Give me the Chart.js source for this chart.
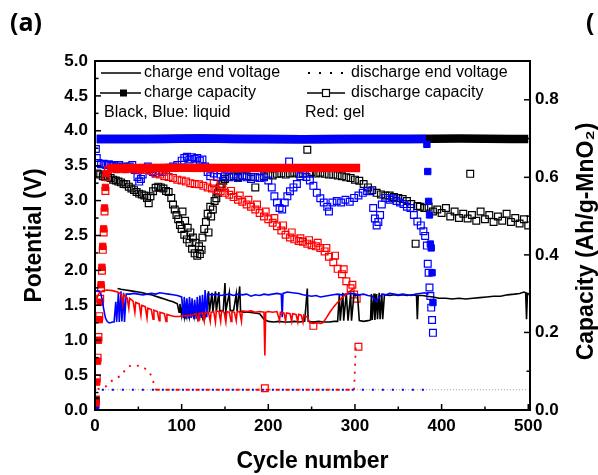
<!DOCTYPE html>
<html>
<head>
<meta charset="utf-8">
<script src="https://cdn.jsdelivr.net/npm/chart.js@4.4.1/dist/chart.umd.min.js"></script>
<style>
html,body{margin:0;padding:0;background:#fff;}
#wrap{width:598px;height:475px;position:relative;}
</style>
</head>
<body>
<div id="wrap"><canvas id="c" width="598" height="475"></canvas></div>
<script>
// ---------- tick labels ----------
const cycleTicks = [0, 100, 200, 300, 400, 500];
const potentialTicks = [0, 0.5, 1.0, 1.5, 2.0, 2.5, 3.0, 3.5, 4.0, 4.5, 5.0];
const capacityTicks = [0, 0.2, 0.4, 0.6, 0.8];

// ---------- charge end voltage (V) ----------
const blackVCyc = [26,30,35,40,45,50,55,60,65,70,75,80,85,90,95,97,98,100,101,103,104,106,107,109,110,112,113,115,116,118,119,121,122,124,125,127,129,131,132,135,136,139,140,143,144,148,150,151,155,156,160,163,164,167,168,172,178,184,190,195,200,206,212,218,224,230,236,242,245,246,252,258,264,270,276,280,282,283,286,287,290,292,295,296,299,300,303,305,310,315,318,319,320,322,323,325,326,328,329,331,332,334,340,345,350,355,360,366,371,372,373,378,383,390,397,405,412,420,428,436,444,452,460,468,476,484,490,495,497,498,499,500];
const blackV = [1.74,1.73,1.72,1.71,1.70,1.69,1.68,1.66,1.65,1.63,1.61,1.59,1.57,1.55,1.52,1.40,1.52,1.36,1.50,1.34,1.50,1.35,1.49,1.34,1.48,1.35,1.47,1.34,1.46,1.33,1.45,1.34,1.44,1.33,1.43,1.33,1.42,1.70,1.40,1.68,1.40,1.70,1.41,1.69,1.42,1.42,1.82,1.42,1.68,1.42,1.43,1.66,1.42,1.77,1.41,1.40,1.40,1.39,1.38,1.30,1.27,1.26,1.27,1.26,1.26,1.27,1.26,1.27,1.74,1.27,1.26,1.27,1.26,1.26,1.27,1.27,1.66,1.28,1.68,1.28,1.67,1.28,1.66,1.28,1.67,1.65,1.64,1.28,1.27,1.28,1.29,1.66,1.29,1.67,1.29,1.66,1.30,1.68,1.30,1.67,1.30,1.65,1.64,1.65,1.64,1.65,1.64,1.65,1.64,1.30,1.64,1.64,1.63,1.62,1.60,1.60,1.59,1.60,1.59,1.60,1.61,1.62,1.63,1.63,1.65,1.66,1.67,1.69,1.68,1.30,1.66,1.64];

const blueVCyc = [1,3,6,8,10,12,14,16,18,20,22,24,25,27,28,30,31,33,34,36,40,45,50,55,60,65,70,75,80,85,90,95,100,102,103,105,106,108,109,111,112,114,115,117,118,120,121,123,124,126,127,129,130,135,140,145,150,155,160,165,170,175,180,185,190,195,200,205,210,215,216,217,222,228,235,240,245,250,255,260,265,270,275,280,285,290,295,300,305,310,315,320,325,328,332,336,340,345,350,355,360,365,370,375,380,385];
const blueV = [1.70,1.71,1.70,1.60,1.45,1.32,1.27,1.25,1.25,1.26,1.26,1.55,1.26,1.68,1.26,1.70,1.27,1.68,1.26,1.66,1.66,1.67,1.66,1.65,1.66,1.67,1.66,1.68,1.67,1.66,1.65,1.64,1.62,1.32,1.62,1.30,1.60,1.31,1.62,1.32,1.60,1.30,1.58,1.31,1.62,1.30,1.64,1.32,1.65,1.31,1.72,1.33,1.66,1.65,1.66,1.64,1.65,1.66,1.64,1.66,1.65,1.66,1.63,1.65,1.64,1.66,1.65,1.66,1.67,1.66,1.33,1.67,1.69,1.68,1.67,1.65,1.64,1.63,1.64,1.62,1.63,1.64,1.65,1.66,1.65,1.66,1.67,1.66,1.65,1.66,1.64,1.63,1.55,1.62,1.66,1.65,1.67,1.66,1.65,1.66,1.65,1.64,1.66,1.67,1.68,1.66];

const redVCyc = [2,5,9,14,20,26,30,32,33,37,39,40,44,46,47,51,53,54,58,60,61,65,67,68,72,74,75,80,82,83,88,92,97,102,107,112,117,119,120,124,126,127,131,133,134,137,139,140,143,145,146,149,151,152,155,157,158,161,163,164,167,169,170,175,180,185,190,195,196,197,200,205,210,213,214,218,220,221,225,227,228,232,234,235,238,240,241,245,248,252,256,260,263,267,271,275,279,283,287,291,295,298];
const redV = [1.60,1.68,1.71,1.72,1.71,1.69,1.66,1.52,1.65,1.61,1.46,1.60,1.56,1.40,1.54,1.52,1.36,1.50,1.48,1.32,1.46,1.44,1.30,1.43,1.41,1.28,1.40,1.38,1.27,1.37,1.35,1.34,1.34,1.35,1.35,1.36,1.38,1.28,1.38,1.39,1.27,1.39,1.40,1.27,1.40,1.41,1.26,1.42,1.41,1.27,1.42,1.40,1.26,1.41,1.40,1.27,1.41,1.40,1.28,1.41,1.41,1.27,1.42,1.41,1.42,1.40,1.41,1.40,0.78,1.40,1.41,1.40,1.41,1.28,1.40,1.39,1.28,1.39,1.38,1.27,1.38,1.37,1.26,1.37,1.36,1.26,1.36,1.33,1.25,1.24,1.25,1.24,1.25,1.32,1.40,1.47,1.53,1.58,1.63,1.67,1.71,1.74];

// ---------- discharge end voltage (V) ----------
const blackDisVCyc = [1, 500];
const blackDisV = [0.29, 0.29];
const blueDisVCyc = [1, 385];
const blueDisV = [0.29, 0.29];
const redDisVCyc = [3,12,17,24,31,35,40,46,52,57,62,65,68,70,299,301];
const redDisV = [0.30,0.33,0.40,0.45,0.50,0.58,0.63,0.64,0.63,0.60,0.55,0.49,0.38,0.29,0.29,0.90];

// ---------- charge capacity (Ah/g-MnO2) ----------
const blackChgCyc = [2,60,120,180,240,300,360,420,480,500];
const blackChg = [0.699,0.699,0.700,0.699,0.698,0.699,0.699,0.700,0.699,0.699];
const blackChgPtCyc = [1];
const blackChgPt = [0.025];
const blueChgCyc = [2,40,80,120,160,200,240,280,320,360,382];
const blueChg = [0.699,0.699,0.699,0.700,0.699,0.699,0.698,0.699,0.699,0.699,0.699];
const blueChgPtCyc = [1,383,384,385,386,387,388,389,390];
const blueChgPt = [0.012,0.685,0.615,0.538,0.503,0.428,0.418,0.354,0.277];
const redChgCyc = [14,50,100,150,200,250,306];
const redChg = [0.624,0.624,0.625,0.624,0.624,0.624,0.624];
const redChgPtCyc = [1,2,3,4,5,6,7,8,9,10,11,12,13];
const redChgPt = [0.018,0.072,0.126,0.180,0.233,0.278,0.323,0.368,0.422,0.467,0.521,0.574,0.610];

// ---------- discharge capacity (Ah/g-MnO2) ----------
const blackDisCapCyc = [3,6,9,12,15,18,21,24,27,30,33,36,39,42,45,48,51,54,57,60,62,64,67,70,73,76,79,82,85,88,90,92,94,96,98,100,101,103,104,106,107,109,110,112,113,115,116,118,120,121,123,124,126,128,130,131,133,134,136,138,140,142,144,146,148,150,155,160,165,170,175,180,185,190,195,200,205,210,215,220,225,230,235,240,245,248,250,255,260,265,270,275,280,285,290,295,300,305,310,315,320,325,330,335,340,345,350,355,360,365,370,372,375,380,385,390,395,400,405,410,415,420,425,430,433,435,440,445,450,455,460,465,470,475,480,485,490,495,500];
const blackDisCap = [0.610,0.607,0.603,0.601,0.600,0.598,0.594,0.592,0.589,0.587,0.583,0.582,0.576,0.571,0.567,0.562,0.558,0.556,0.553,0.547,0.533,0.551,0.564,0.573,0.576,0.574,0.571,0.565,0.562,0.547,0.530,0.517,0.503,0.492,0.477,0.467,0.512,0.452,0.488,0.440,0.470,0.431,0.458,0.416,0.445,0.404,0.431,0.398,0.422,0.402,0.413,0.445,0.467,0.485,0.506,0.458,0.524,0.499,0.517,0.539,0.546,0.560,0.574,0.583,0.591,0.596,0.600,0.603,0.601,0.605,0.603,0.601,0.574,0.598,0.603,0.607,0.605,0.609,0.610,0.607,0.610,0.612,0.609,0.610,0.671,0.612,0.614,0.610,0.612,0.609,0.607,0.607,0.605,0.603,0.600,0.598,0.594,0.591,0.583,0.574,0.567,0.560,0.556,0.553,0.553,0.549,0.547,0.544,0.539,0.531,0.429,0.526,0.524,0.521,0.524,0.512,0.517,0.508,0.521,0.499,0.512,0.495,0.506,0.494,0.609,0.503,0.488,0.512,0.492,0.503,0.485,0.499,0.488,0.506,0.485,0.495,0.481,0.492,0.476];

const blueDisCapCyc = [1,2,4,7,10,13,16,19,22,25,28,31,34,37,40,43,46,49,51,53,55,58,61,64,67,70,74,78,82,86,90,95,100,103,106,109,112,115,118,121,124,127,130,133,137,141,145,150,155,160,165,170,175,180,185,190,195,200,204,207,210,213,216,219,222,224,225,229,233,237,240,244,248,252,256,260,264,268,270,274,279,284,289,294,299,304,309,314,318,321,323,325,327,329,331,335,340,344,348,352,356,360,364,368,372,376,379,381,383,384,385,386,387,388,389,390];
const blueDisCap = [0.673,0.650,0.637,0.634,0.635,0.632,0.634,0.630,0.632,0.628,0.632,0.626,0.628,0.625,0.628,0.632,0.619,0.601,0.589,0.596,0.607,0.619,0.628,0.621,0.614,0.610,0.617,0.614,0.619,0.625,0.628,0.632,0.643,0.650,0.653,0.646,0.652,0.648,0.650,0.643,0.646,0.628,0.614,0.603,0.610,0.601,0.607,0.603,0.601,0.607,0.598,0.603,0.600,0.596,0.601,0.598,0.600,0.592,0.574,0.551,0.535,0.521,0.517,0.535,0.551,0.641,0.564,0.574,0.583,0.603,0.610,0.601,0.592,0.578,0.560,0.546,0.535,0.524,0.512,0.535,0.539,0.535,0.542,0.537,0.547,0.553,0.560,0.565,0.564,0.521,0.494,0.476,0.485,0.503,0.530,0.547,0.542,0.546,0.539,0.535,0.531,0.524,0.521,0.503,0.486,0.476,0.461,0.449,0.424,0.377,0.354,0.316,0.294,0.264,0.232,0.199];

const redDisCapCyc = [1,2,3,4,5,6,7,8,9,10,11,12,13,15,20,25,30,35,40,45,50,55,60,65,70,75,80,85,90,95,100,105,110,115,120,125,130,135,137,140,145,147,150,155,157,160,165,167,170,175,177,180,185,187,190,195,196,197,200,205,207,210,215,217,220,225,227,230,235,237,240,245,247,250,252,255,257,260,265,267,270,275,277,280,285,287,290,295,297,299,302,304];
const redDisCap = [0.027,0.081,0.135,0.188,0.242,0.287,0.314,0.359,0.413,0.458,0.512,0.565,0.601,0.619,0.623,0.621,0.623,0.621,0.623,0.621,0.621,0.619,0.619,0.616,0.610,0.607,0.603,0.601,0.598,0.594,0.592,0.589,0.585,0.583,0.582,0.578,0.574,0.571,0.585,0.567,0.564,0.574,0.560,0.555,0.565,0.549,0.542,0.553,0.537,0.530,0.542,0.524,0.517,0.530,0.508,0.499,0.056,0.512,0.492,0.483,0.495,0.474,0.463,0.476,0.452,0.445,0.458,0.440,0.436,0.443,0.434,0.429,0.438,0.425,0.217,0.422,0.431,0.418,0.409,0.418,0.395,0.381,0.398,0.364,0.350,0.363,0.332,0.314,0.323,0.298,0.287,0.163];

// ---------- helpers ----------
const xy = (xs, ys) => xs.map((x, i) => ({ x: x, y: ys[i] }));
const FONT = '"Liberation Sans", Arial, Helvetica, sans-serif';
const BLACK = '#000000', BLUE = '#0000ff', RED = '#ff0000';

function vLine(label, xs, ys, color, order, extra) {
  return Object.assign({ label, data: xy(xs, ys), yAxisID: 'y', showLine: true, borderColor: color,
    backgroundColor: color, borderWidth: 1.6, pointRadius: 0, tension: 0, order }, extra || {});
}
function capBar(label, xs, ys, color, order) {
  return { label, data: xy(xs, ys), yAxisID: 'y1', showLine: true, borderColor: color, backgroundColor: color,
    borderWidth: 8.5, borderCapStyle: 'butt', pointRadius: 0, tension: 0, order };
}
function capPts(label, xs, ys, color, order, open) {
  return { label, data: xy(xs, ys), yAxisID: 'y1', showLine: false, pointStyle: 'rect',
    pointRadius: open ? 4.8 : 4.5, borderWidth: open ? 1.2 : 1, borderColor: color,
    backgroundColor: open ? 'rgba(0,0,0,0)' : color, order };
}

const datasets = [
  vLine('black discharge end voltage', blackDisVCyc, blackDisV, '#9a9a9a', 30, { borderWidth: 1, borderDash: [1, 2] }),
  capPts('black discharge capacity', blackDisCapCyc, blackDisCap, BLACK, 29, true),
  capPts('blue discharge capacity', blueDisCapCyc, blueDisCap, BLUE, 28, true),
  capPts('red discharge capacity', redDisCapCyc, redDisCap, RED, 27, true),
  capBar('black charge capacity', blackChgCyc, blackChg, BLACK, 26),
  capPts('black charge capacity pts', blackChgPtCyc, blackChgPt, BLACK, 25, false),
  capBar('blue charge capacity', blueChgCyc, blueChg, BLUE, 24),
  capPts('blue charge capacity pts', blueChgPtCyc, blueChgPt, BLUE, 23, false),
  capBar('red charge capacity', redChgCyc, redChg, RED, 22),
  capPts('red charge capacity pts', redChgPtCyc, redChgPt, RED, 21, false),
  vLine('black charge end voltage', blackVCyc, blackV, BLACK, 20),
  vLine('blue charge end voltage', blueVCyc, blueV, BLUE, 19),
  vLine('red charge end voltage', redVCyc, redV, RED, 18),
  vLine('blue discharge end voltage', blueDisVCyc, blueDisV, BLUE, 17, { borderWidth: 2, borderDash: [2, 8], borderDashOffset: 4 }),
  vLine('red discharge end voltage', redDisVCyc, redDisV, RED, 16, {
    borderWidth: 1.8, borderDash: [4, 6],
    segment: { borderDash: c => (c.p0.parsed.y !== c.p1.parsed.y ? [2, 6] : undefined) }
  })
];

const decor = {
  id: 'decor',
  afterDraw(chart) {
    const ctx = chart.ctx, a = chart.chartArea;
    const sx = chart.scales.x, sy = chart.scales.y, sy1 = chart.scales.y1;
    const seg = (x1, y1, x2, y2) => { ctx.beginPath(); ctx.moveTo(x1, y1); ctx.lineTo(x2, y2); ctx.stroke(); };
    ctx.save();
    ctx.strokeStyle = '#000'; ctx.fillStyle = '#000'; ctx.lineWidth = 1.5;
    // inward tick marks (major + minor)
    for (let i = 0; i < cycleTicks.length; i++) {
      const px = sx.getPixelForValue(cycleTicks[i]);
      seg(px, a.bottom, px, a.bottom - 6);
      if (i < cycleTicks.length - 1) {
        const pm = sx.getPixelForValue((cycleTicks[i] + cycleTicks[i + 1]) / 2);
        seg(pm, a.bottom, pm, a.bottom - 3.5);
      }
    }
    for (let i = 0; i < potentialTicks.length; i++) {
      const py = sy.getPixelForValue(potentialTicks[i]);
      seg(a.left, py, a.left + 6, py);
      if (i < potentialTicks.length - 1) {
        const pm = sy.getPixelForValue((potentialTicks[i] + potentialTicks[i + 1]) / 2);
        seg(a.left, pm, a.left + 3.5, pm);
      }
    }
    for (let i = 0; i < capacityTicks.length; i++) {
      const py = sy1.getPixelForValue(capacityTicks[i]);
      seg(a.right, py, a.right - 6, py);
      const pm = sy1.getPixelForValue(capacityTicks[i] + 0.1);
      if (pm > a.top + 2) seg(a.right, pm, a.right - 3.5, pm);
    }
    // frame
    ctx.lineWidth = 2;
    ctx.strokeRect(a.left, a.top, a.right - a.left, a.bottom - a.top);

    // legend (inside plot)
    ctx.font = '16px ' + FONT;
    ctx.textBaseline = 'middle'; ctx.textAlign = 'left';
    ctx.lineWidth = 1.5;
    seg(101, 73, 141, 73);
    ctx.fillText('charge end voltage', 144, 73);
    [309, 320, 331, 342].forEach(d => ctx.fillRect(d - 1, 72, 2, 2));
    ctx.fillText('discharge end voltage', 351, 73);
    seg(100, 93, 141, 93);
    ctx.fillRect(120, 89.5, 7, 7);
    ctx.fillText('charge capacity', 144, 93);
    seg(307, 93, 345, 93);
    ctx.fillStyle = '#fff'; ctx.fillRect(322.5, 89.5, 7, 7); ctx.fillStyle = '#000';
    ctx.lineWidth = 1.2; ctx.strokeRect(322.5, 89.5, 7, 7);
    ctx.fillText('discharge capacity', 351, 93);
    ctx.fillText('Black, Blue: liquid', 104, 113);
    ctx.fillText('Red: gel', 305, 113);

    // right axis title (reads bottom-to-top)
    ctx.save();
    ctx.font = 'bold 23px ' + FONT;
    ctx.textAlign = 'center'; ctx.textBaseline = 'alphabetic';
    ctx.translate(593, (a.top + a.bottom) / 2 + 6);
    ctx.rotate(-Math.PI / 2);
    ctx.fillText('Capacity (Ah/g-MnO\u2082)', 0, 0);
    ctx.restore();

    // panel labels
    ctx.font = 'bold 25px "Open Sans", ' + FONT;
    ctx.textBaseline = 'alphabetic'; ctx.textAlign = 'left';
    ctx.fillText('(a)', 10, 31);
    ctx.fillText('(', 586, 31);
    ctx.restore();
  }
};

const tickFont = { family: FONT, size: 17, weight: 'bold' };
new Chart(document.getElementById('c'), {
  type: 'scatter',
  data: { datasets },
  options: {
    responsive: false, animation: false, devicePixelRatio: 1,
    layout: { padding: { top: 61, left: 0, right: 0, bottom: 0 } },
    plugins: { legend: { display: false }, tooltip: { enabled: false } },
    scales: {
      x: {
        type: 'linear', position: 'bottom', min: 0, max: 502,
        afterBuildTicks: s => { s.ticks = cycleTicks.map(v => ({ value: v })); },
        afterFit: s => { s.height = 65; },
        grid: { display: false, drawTicks: false }, border: { display: false },
        ticks: { autoSkip: false, maxRotation: 0, padding: 6, color: '#000', font: tickFont },
        title: { display: true, text: 'Cycle number', color: '#000', font: { family: FONT, size: 23, weight: 'bold' }, padding: { top: 0, bottom: 0 } }
      },
      y: {
        type: 'linear', position: 'left', min: 0, max: 5,
        afterBuildTicks: s => { s.ticks = potentialTicks.map(v => ({ value: v })); },
        afterFit: s => { s.width = 95; },
        grid: { display: false, drawTicks: false }, border: { display: false },
        ticks: { autoSkip: false, padding: 7, color: '#000', font: tickFont, callback: v => Number(v).toFixed(1) },
        title: { display: true, text: 'Potential (V)', color: '#000', font: { family: FONT, size: 23, weight: 'bold' }, padding: { top: 21, bottom: 0 } }
      },
      y1: {
        type: 'linear', position: 'right', min: 0, max: 0.9,
        afterBuildTicks: s => { s.ticks = capacityTicks.map(v => ({ value: v })); },
        afterFit: s => { s.width = 68; },
        grid: { display: false, drawTicks: false }, border: { display: false },
        ticks: { autoSkip: false, padding: 5, color: '#000', font: tickFont, callback: v => Number(v).toFixed(1) }
      }
    }
  },
  plugins: [decor]
});
</script>
</body>
</html>
